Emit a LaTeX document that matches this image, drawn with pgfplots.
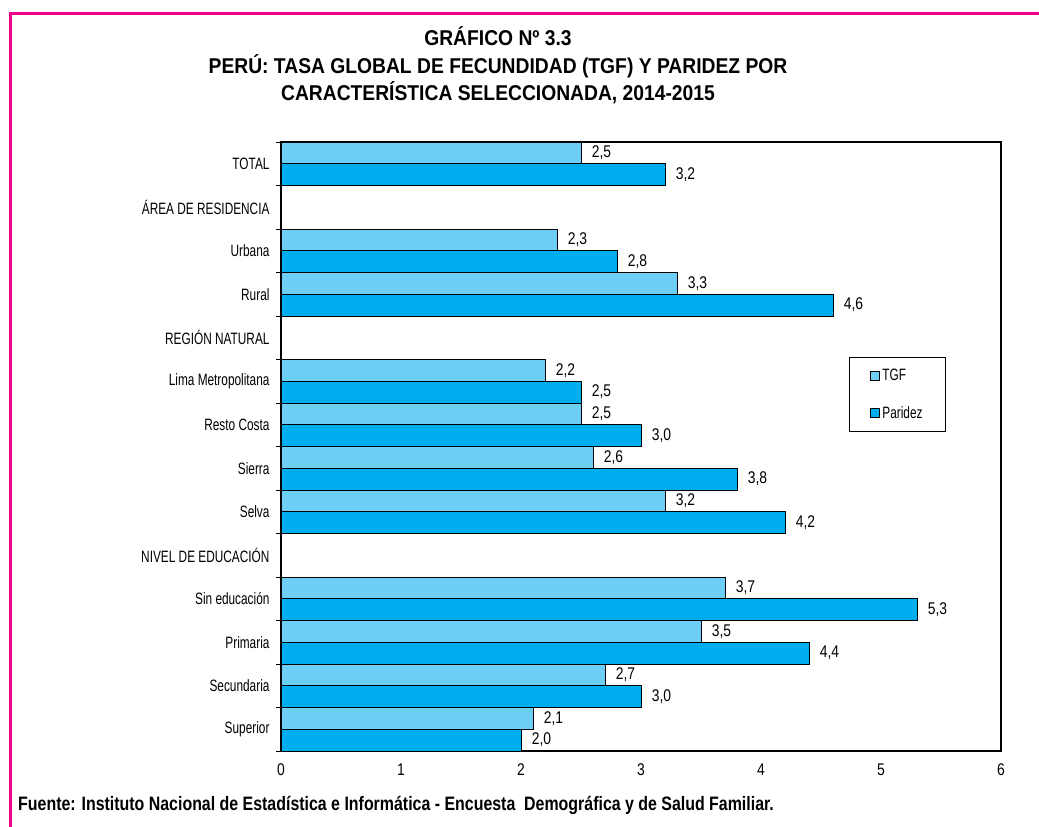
\documentclass[border=0pt]{standalone}
\usepackage{fontspec}
\setmainfont{Liberation Sans}[FakeStretch=0.72]
\newfontfamily\titlefont{Liberation Sans}[FakeStretch=0.9]
\newfontfamily\srcfont{Liberation Sans}[FakeStretch=0.82]
\usepackage{pgfplots}
\pgfplotsset{compat=1.18}
\definecolor{tgf}{HTML}{6DCFF6}
\definecolor{par}{HTML}{00AEEF}
\definecolor{framec}{HTML}{EC008C}
\newcommand{\lab}{\fontsize{16.5}{19}\selectfont}
\newcommand{\num}{\srcfont\fontsize{17}{19}\selectfont}
\begin{document}
\begin{tikzpicture}
\useasboundingbox (0bp,0bp) rectangle (1039bp,827bp);
\draw[framec, line width=3bp] (10bp,0bp) -- (10bp,813.5bp) -- (1039bp,813.5bp);
\node[anchor=base, font=\titlefont\bfseries\fontsize{21.5}{24}\selectfont] at (498bp,781.5bp) {GRÁFICO Nº 3.3};
\node[anchor=base, font=\titlefont\bfseries\fontsize{21.5}{24}\selectfont] at (498bp,753.5bp) {PERÚ: TASA GLOBAL DE FECUNDIDAD (TGF) Y PARIDEZ POR};
\node[anchor=base, font=\titlefont\bfseries\fontsize{21.5}{24}\selectfont] at (498bp,726.5bp) {CARACTERÍSTICA SELECCIONADA, 2014-2015};
\node[anchor=base west, inner sep=0pt, font=\srcfont\bfseries\fontsize{19.5}{22}\selectfont] at (18bp,17bp) {Fuente: Instituto Nacional de Estadística e Informática - Encuesta\ \ Demográfica y de Salud Familiar.};
\begin{axis}[
  at={(281bp,76bp)}, anchor=south west,
  width=720bp, height=609bp, scale only axis,
  xmin=0, xmax=6, ymin=-0.5, ymax=13.5, y dir=reverse,
  axis line style={black, line width=1.2bp},
  xtick={0,...,6},
  ytick={0,...,13},
  yticklabels={TOTAL, ÁREA DE RESIDENCIA, Urbana, Rural, REGIÓN NATURAL, Lima Metropolitana, Resto Costa, Sierra, Selva, NIVEL DE EDUCACIÓN, Sin educación, Primaria, Secundaria, Superior},
  minor ytick={-0.5,0.5,...,13.5},
  ytick pos=left, xtick pos=bottom,
  major tick length=0pt, minor tick length=5bp, tick align=outside,
  minor tick style={black, line width=1bp},
  yticklabel style={font=\lab, xshift=-8bp},
  xticklabel style={font=\num, yshift=-9bp},
  /pgf/number format/assume math mode=true,
  xbar, bar width=0.5,
  nodes near coords={\pgfmathprintnumber[fixed,fixed zerofill,precision=1,use comma,assume math mode=true]{\pgfplotspointmeta}},
  nodes near coords style={font=\num, anchor=west, xshift=7bp},
  legend image code/.code={\draw[#1, line width=1bp] (0bp,-4.5bp) rectangle (9bp,4.5bp);},
  legend style={at={(0.789,0.647)}, anchor=north west, draw=black, line width=0.6bp,
    inner xsep=21bp, inner ysep=10bp, row sep=20bp, font=\lab,
    nodes={inner sep=2bp}},
  legend cell align=left,
]
\addplot[bar shift=-0.25, fill=tgf, draw=black, line width=1bp] coordinates {
 (2.5,0) (2.3,2) (3.3,3) (2.2,5) (2.5,6) (2.6,7) (3.2,8) (3.7,10) (3.5,11) (2.7,12) (2.1,13)};
\addplot[bar shift=0.25, fill=par, draw=black, line width=1bp] coordinates {
 (3.2,0) (2.8,2) (4.6,3) (2.5,5) (3.0,6) (3.8,7) (4.2,8) (5.3,10) (4.4,11) (3.0,12) (2.0,13)};
\legend{TGF, Paridez}
\end{axis}
\end{tikzpicture}
\end{document}
